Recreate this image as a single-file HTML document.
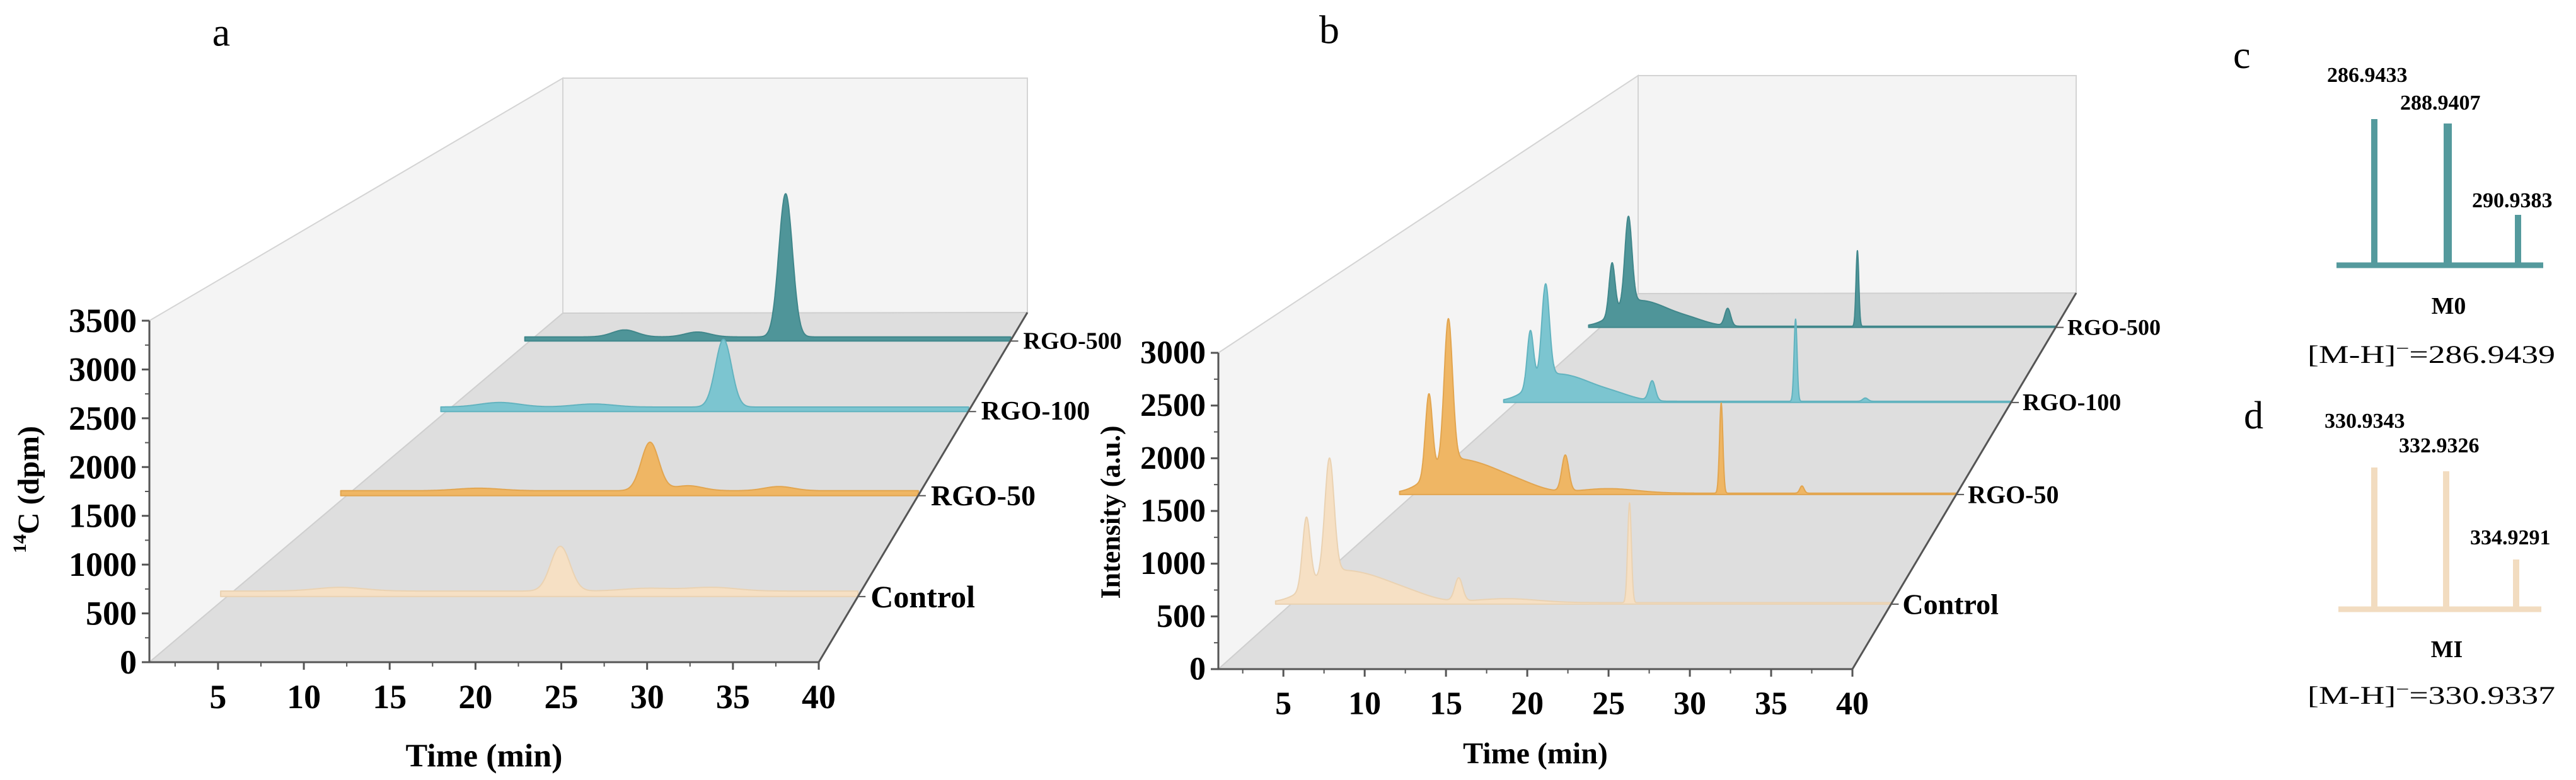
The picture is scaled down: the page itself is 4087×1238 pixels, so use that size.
<!DOCTYPE html>
<html><head><meta charset="utf-8"><title>14C chromatograms</title>
<style>
html,body{margin:0;padding:0;background:#fff;}
svg{display:block;font-family:"Liberation Serif",serif;}
</style></head>
<body>
<svg id="fig" width="4087" height="1238" viewBox="0 0 4087 1238" xmlns="http://www.w3.org/2000/svg">
<g id="panelA"></g>
<g id="panelB"></g>
<g id="panelC">
  <text x="3543" y="108" font-size="62">c</text>
  <line x1="3707" y1="421" x2="4035" y2="421" stroke="#549a9d" stroke-width="9"/>
  <rect x="3762" y="189" width="10" height="232" fill="#549a9d"/>
  <rect x="3877" y="196" width="13" height="225" fill="#549a9d"/>
  <rect x="3990" y="341" width="10" height="80" fill="#549a9d"/>
  <text x="3692" y="130" font-size="34" font-weight="bold">286.9433</text>
  <text x="3808" y="174" font-size="34" font-weight="bold">288.9407</text>
  <text x="3922" y="329" font-size="34" font-weight="bold">290.9383</text>
  <text x="3885" y="498" font-size="38" font-weight="bold" text-anchor="middle">M0</text>
  <text x="3661" y="576" font-size="40" textLength="393" lengthAdjust="spacingAndGlyphs">[M-H]<tspan dy="-14" font-size="28">−</tspan><tspan dy="14">=286.9439</tspan></text>
</g>
<g id="panelD">
  <text x="3560" y="680" font-size="62">d</text>
  <line x1="3710" y1="967" x2="4032" y2="967" stroke="#f2dcc0" stroke-width="9"/>
  <rect x="3762" y="742" width="10" height="225" fill="#f2dcc0"/>
  <rect x="3876" y="748" width="10" height="219" fill="#f2dcc0"/>
  <rect x="3987" y="888" width="10" height="79" fill="#f2dcc0"/>
  <text x="3688" y="679" font-size="34" font-weight="bold">330.9343</text>
  <text x="3806" y="718" font-size="34" font-weight="bold">332.9326</text>
  <text x="3919" y="864" font-size="34" font-weight="bold">334.9291</text>
  <text x="3882" y="1043" font-size="38" font-weight="bold" text-anchor="middle">MI</text>
  <text x="3661" y="1117" font-size="40" textLength="393" lengthAdjust="spacingAndGlyphs">[M-H]<tspan dy="-14" font-size="28">−</tspan><tspan dy="14">=330.9337</tspan></text>
</g>
</svg>
<script>
// ---------- data ----------
const seriesNames = ["Control", "RGO-50", "RGO-100", "RGO-500"];
const xTicks = [5, 10, 15, 20, 25, 30, 35, 40];
const aYTicks = [0, 500, 1000, 1500, 2000, 2500, 3000, 3500];
const bYTicks = [0, 500, 1000, 1500, 2000, 2500, 3000];
// panel a: peak retention times (min), heights (dpm), widths (min)
const aPeakTimes = [[21.6, 8, 27, 31], [21.7, 24.3, 30.5, 10], [21.7, 5, 12], [21.75, 8.7, 14.6]];
const aPeakValues = [[487, 40, 30, 40], [582, 60, 50, 30], [893, 60, 40], [2058, 100, 70]];
const aPeakWidths = [[0.6, 1.5, 1.5, 1.5], [0.6, 1, 1, 1.5], [0.6, 1.5, 1.5], [0.55, 1, 1]];
const aBaseline = [60, 60, 60, 60];
// panel b
const bPeakTimes = [
  [2.0, 3.5, 3.5, 6, 8.5, 11.9, 23.0, 15],
  [2.1, 3.5, 3.5, 6, 8.5, 11.9, 23.1, 28.9, 15],
  [2.1, 3.3, 3.4, 5.8, 8.5, 11.7, 23.0, 28.5],
  [2.0, 3.4, 3.5, 5.8, 8.5, 11.9, 23.0]];
const bPeakValues = [
  [700, 1150, 250, 200, 100, 230, 1000, 40],
  [900, 1580, 300, 220, 110, 400, 1000, 80, 50],
  [680, 1130, 250, 200, 100, 240, 1000, 40],
  [680, 1150, 250, 200, 100, 230, 1000]];
const bPeakWidths = [
  [0.25, 0.3, 1.5, 1.5, 1.5, 0.25, 0.12, 2],
  [0.25, 0.3, 1.5, 1.5, 1.5, 0.25, 0.12, 0.15, 2],
  [0.25, 0.3, 1.5, 1.5, 1.5, 0.25, 0.12, 0.2],
  [0.25, 0.3, 1.5, 1.5, 1.5, 0.25, 0.12]];
const bBaseline = [15, 15, 15, 15];

// ---------- layout ----------
const NS = "http://www.w3.org/2000/svg";
const fills = ["#f6e0c4", "#efb664", "#7cc5d0", "#4f9599"];
const strokes = ["#ead2b2", "#e2a54f", "#62b3bf", "#40878b"];
const A = {fl:[237,1051], fr:[1299,1051], bl:[893,497], br:[1630,496], topF:509, topB:124,
  t0:1, t1:40, ymax:3500, depth:[0.188,0.477,0.718,0.92], tStart:0.6,
  labelSizes:[50,46,42,38], labelDx:20, tickFs:54, titleFs:52};
const B = {fl:[1933,1062], fr:[2939,1062], bl:[2599,466], br:[3294,465], topF:560, topB:120,
  t0:1, t1:40, ymax:3000, depth:[0.173,0.465,0.71,0.91], tStart:0.0,
  labelSizes:[46,40,38,36], labelDx:18, tickFs:52, titleFs:48};

function mk(tag, attrs, parent){
  const e = document.createElementNS(NS, tag);
  for (const k in attrs) e.setAttribute(k, attrs[k]);
  parent.appendChild(e); return e;
}
function proj(P, t, v, u){
  const xl = P.fl[0] + (P.bl[0]-P.fl[0])*u;
  const xr = P.fr[0] + (P.br[0]-P.fr[0])*u;
  const yb = P.fl[1] + (P.bl[1]-P.fl[1])*u;
  const ratio = (P.bl[1]-P.topB)/(P.fl[1]-P.topF);
  const s = 1 - (1-ratio)*u;
  const px = (P.fl[1]-P.topF)/P.ymax;
  return [xl + (t-P.t0)/(P.t1-P.t0)*(xr-xl), yb - v*px*s];
}
function signal(t, times, vals, wids, base){
  let v = base;
  for (let i=0;i<times.length;i++){ const d=(t-times[i])/wids[i]; v += vals[i]*Math.exp(-0.5*d*d); }
  return v;
}

function drawPanel(g, P, yTicks, times, vals, wids, base, letter, letterPos, yTitle, yTitlePos, xTitlePos){
  // walls
  const bw = mk("rect", {x:P.bl[0], y:P.topB, width:P.br[0]-P.bl[0], height:P.bl[1]-P.topB, fill:"#f4f4f4", stroke:"#d4d4d4", "stroke-width":2}, g);
  
  
  const lw = mk("polygon", {points:`${P.fl[0]},${P.topF} ${P.bl[0]},${P.topB} ${P.bl[0]},${P.bl[1]} ${P.fl[0]},${P.fl[1]}`, fill:"#f4f4f4", stroke:"#d4d4d4", "stroke-width":2}, g);
  
  
  const fl = mk("polygon", {points:`${P.fl[0]},${P.fl[1]} ${P.bl[0]},${P.bl[1]} ${P.br[0]},${P.br[1]} ${P.fr[0]},${P.fr[1]}`, fill:"#dedede", stroke:"#cfcfcf", "stroke-width":2}, g);
  
  

  // series back to front
  for (let i=seriesNames.length-1;i>=0;i--){
    const u = P.depth[i];
    let d = "";
    const p0 = proj(P, P.tStart, 0, u);
    d += `M${p0[0].toFixed(1)},${p0[1].toFixed(1)}`;
    for (let t=P.tStart; t<=P.t1+1e-9; t+=0.02){
      const v = signal(t, times[i], vals[i], wids[i], base[i]);
      const p = proj(P, t, v, u);
      d += `L${p[0].toFixed(1)},${p[1].toFixed(1)}`;
    }
    const pe = proj(P, P.t1, 0, u);
    d += `L${pe[0].toFixed(1)},${pe[1].toFixed(1)}Z`;
    const path = mk("path", {d:d, fill:fills[i], stroke:strokes[i], "stroke-width":2, "stroke-linejoin":"round"}, g);
    
    
    // label tick + label
    const tk = mk("line", {x1:pe[0], y1:pe[1], x2:pe[0]+12, y2:pe[1], stroke:"#555", "stroke-width":2}, g);
    
    
    const lb = mk("text", {x:pe[0]+P.labelDx, y:pe[1], "font-size":P.labelSizes[i], "font-weight":"bold", "dominant-baseline":"central"}, g);
    lb.textContent = seriesNames[i];
    
    
  }

  // axes
  const ax = [[P.fl[0],P.topF,P.fl[0],P.fl[1]],[P.fl[0],P.fl[1],P.fr[0],P.fr[1]],[P.fr[0],P.fr[1],P.br[0],P.br[1]]];
  const axNames = ['y-axis','x-axis','depth-axis'];
  ax.forEach((a,k)=>{
    const l = mk("line", {x1:a[0],y1:a[1],x2:a[2],y2:a[3],stroke:"#555","stroke-width":3}, g);
    
    
  });
  // y ticks
  for (let k=0;k<yTicks.length;k++){
    const p = proj(P, P.t0, yTicks[k], 0);
    const l = mk("line", {x1:p[0]-12,y1:p[1],x2:p[0],y2:p[1],stroke:"#555","stroke-width":3}, g);
    
    
    const tx = mk("text", {x:p[0]-20, y:p[1], "font-size":P.tickFs, "font-weight":"bold", "text-anchor":"end", "dominant-baseline":"central"}, g);
    tx.textContent = yTicks[k];
    
    
    if (k < yTicks.length-1){
      const m = proj(P, P.t0, (yTicks[k]+yTicks[k+1])/2, 0);
      const ml = mk("line", {x1:m[0]-7,y1:m[1],x2:m[0],y2:m[1],stroke:"#555","stroke-width":2}, g);
      
      
    }
  }
  // x ticks
  for (let k=0;k<xTicks.length;k++){
    const p = proj(P, xTicks[k], 0, 0);
    const l = mk("line", {x1:p[0],y1:p[1],x2:p[0],y2:p[1]+12,stroke:"#555","stroke-width":3}, g);
    
    
    const tx = mk("text", {x:p[0], y:p[1]+55, "font-size":P.tickFs, "font-weight":"bold", "text-anchor":"middle", "dominant-baseline":"central"}, g);
    tx.textContent = xTicks[k];
    
    
    const m = proj(P, xTicks[k]-2.5, 0, 0);
    const ml = mk("line", {x1:m[0],y1:m[1],x2:m[0],y2:m[1]+7,stroke:"#555","stroke-width":2}, g);
    
    
  }
  // titles
  const lt = mk("text", {x:letterPos[0], y:letterPos[1], "font-size":64, "text-anchor":"middle", "dominant-baseline":"central"}, g);
  lt.textContent = letter;
  
  
  const xt = mk("text", {x:xTitlePos[0], y:xTitlePos[1], "font-size":P.titleFs, "font-weight":"bold", "text-anchor":"middle", "dominant-baseline":"central"}, g);
  xt.textContent = "Time (min)";
  
  
  const yt = mk("text", {x:0, y:0, "font-size":P.titleFs-4, "font-weight":"bold", "text-anchor":"middle", "dominant-baseline":"central", transform:`translate(${yTitlePos[0]},${yTitlePos[1]}) rotate(-90)`}, g);
  
  
  if (yTitle === "14C"){
    const s1 = mk("tspan", {"font-size":30, dy:-14}, yt); s1.textContent = "14";
    const s2 = mk("tspan", {dy:14}, yt); s2.textContent = "C (dpm)";
  } else {
    yt.textContent = yTitle;
  }
}

drawPanel(document.getElementById("panelA"), A, aYTicks, aPeakTimes, aPeakValues, aPeakWidths, aBaseline, "a", [351,51], "14C", [45,777], [768,1200]);
drawPanel(document.getElementById("panelB"), B, bYTicks, bPeakTimes, bPeakValues, bPeakWidths, bBaseline, "b", [2109,47], "Intensity (a.u.)", [1762,813], [2436,1196]);
</script>
</body></html>
